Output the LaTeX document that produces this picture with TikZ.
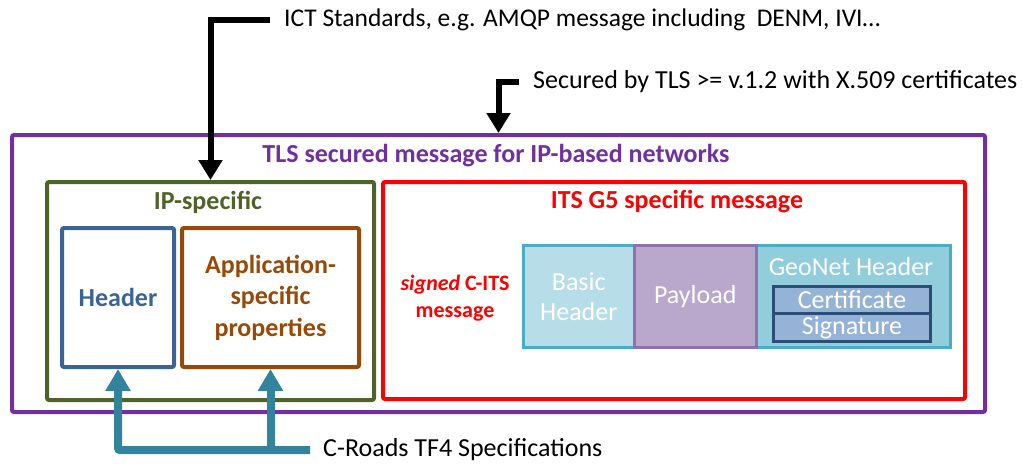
\documentclass[tikz,border=0pt]{standalone}
\usepackage{fontspec}
\setmainfont{Carlito}
\usetikzlibrary{positioning,arrows.meta}
\definecolor{tlspurple}{HTML}{7030A0}
\definecolor{ipgreen}{HTML}{4F6228}
\definecolor{hdrblue}{HTML}{3A6496}
\definecolor{appbrown}{HTML}{984807}
\definecolor{g5red}{HTML}{FF0000}
\definecolor{croads}{HTML}{31849B}
\definecolor{basicfill}{HTML}{B7DEE8}
\definecolor{basicline}{HTML}{4BACC6}
\definecolor{payfill}{HTML}{B9A8CC}
\definecolor{payline}{HTML}{8E72AE}
\definecolor{geofill}{HTML}{92CDDC}
\definecolor{certfill}{HTML}{95B3D7}
\definecolor{certline}{HTML}{2C4D75}

\begin{document}
\begin{tikzpicture}[x=1pt,y=-1pt,
 box/.style={draw,line width=4pt,rounded corners=2pt,anchor=north west,inner sep=0pt},
 lbl/.style={font=\fontsize{26}{31}\selectfont\bfseries},
 note/.style={font=\fontsize{25.5}{30}\selectfont,anchor=west,inner xsep=14pt,inner ysep=0pt},
 field/.style={line width=2.5pt,anchor=north west,inner sep=0pt,text=white,align=center,font=\fontsize{26}{30}\selectfont},
 black arrow/.style={line width=6pt,-{Triangle[width=23pt,length=20pt]}},
 teal arrow/.style={croads,line width=8pt,rounded corners=2pt,-{Triangle[width=24pt,length=22pt]}}]
\useasboundingbox (0,0) rectangle (1022,463);

\node[box,tlspurple,minimum width=973pt,minimum height=277pt] (tlsbox) at (10,133) {};
\node[lbl,text=tlspurple] (tlstitle) at (496,156) {TLS secured message for IP-based networks};

\node[box,ipgreen,minimum width=327pt,minimum height=218pt] (ipbox) at (45,180) {};
\node[lbl,text=ipgreen] (iptitle) at (208,202) {IP-specific};
\node[box,hdrblue,minimum width=112pt,minimum height=139pt,text=hdrblue,lbl] (hdr) at (60,226) {Header};
\node[box,appbrown,minimum width=177pt,minimum height=139pt,text=appbrown,lbl,align=center,
 font=\fontsize{26}{31.5}\selectfont\bfseries] (app) at (180,226) {Application-\\specific\\properties};

\node[box,g5red,minimum width=582pt,minimum height=217pt] (g5box) at (381,180) {};
\node[lbl,text=g5red] (g5title) at (677,202) {ITS G5 specific message};
\node[lbl,text=g5red,align=center,font=\fontsize{22}{27}\selectfont\bfseries] (signed) at (455,298)
 {\textit{signed} C-ITS\\message};

\node[field,draw=basicline,fill=basicfill,minimum width=111pt,minimum height=102pt] (basic) at (522,244) {Basic\\Header};
\node[field,draw=basicline,fill=geofill,minimum width=194pt,minimum height=102pt] (geo) at (755,244) {};
\node[field,draw=payline,fill=payfill,minimum width=122pt,minimum height=102pt] (payload) at (633,244) {Payload};
\node[text=white,font=\fontsize{26}{30}\selectfont,inner sep=0pt] (geotitle) at (851,267) {GeoNet Header};
\node[field,draw=certline,line width=3pt,fill=certfill,minimum width=157pt,minimum height=27pt] (cert) at (772,285) {Certificate};
\node[field,draw=certline,line width=3pt,fill=certfill,minimum width=157pt,minimum height=28pt] (sig) at (772,312) {Signature};

\node[note] (ict) at (270,20) {ICT Standards, e.g. AMQP message including\ \ DENM, IVI…};
\node[note,font=\fontsize{26}{30}\selectfont] (tlsnote) at (519,82) {Secured by TLS >= v.1.2 with X.509 certificates};
\node[note,font=\fontsize{26}{30}\selectfont,inner xsep=13pt] (croadsnote) at (310,450) {C-Roads TF4 Specifications};

\draw[black arrow] (ict.west) -| (ipbox.north);
\draw[black arrow] (tlsnote.west) -| (tlsbox.north);
\draw[teal arrow] (croadsnote.west) -| (hdr.south);
\coordinate (branch) at (app.south |- croadsnote.west);
\draw[teal arrow] (branch) -- (app.south);
\end{tikzpicture}
\end{document}
